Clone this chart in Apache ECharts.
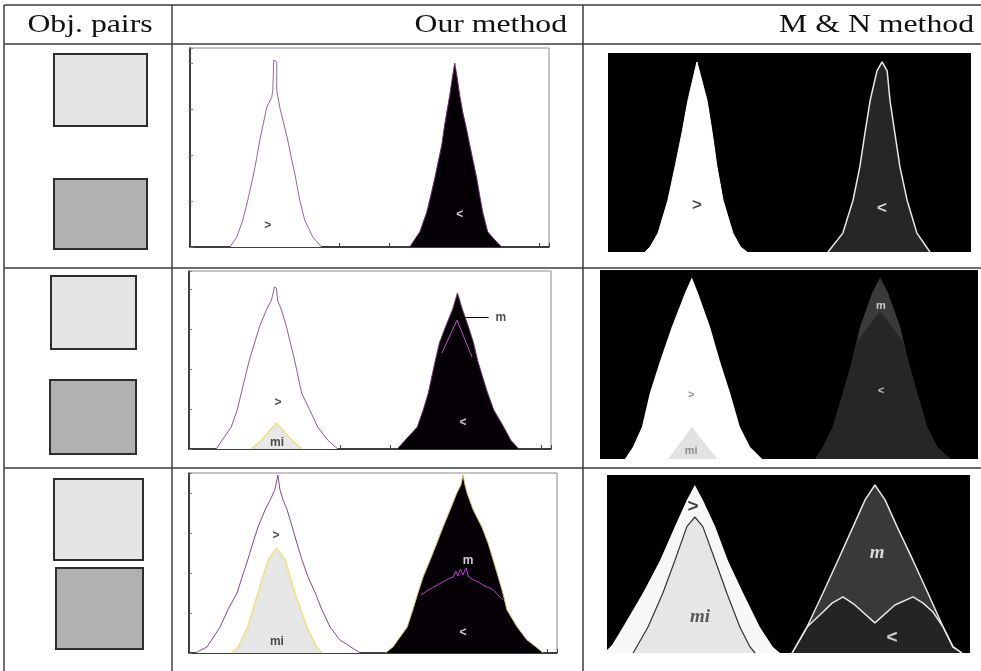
<!DOCTYPE html>
<html><head><meta charset="utf-8">
<script src="https://cdn.jsdelivr.net/npm/echarts@6/dist/echarts.min.js"></script>
<style>html,body{margin:0;padding:0;background:#fff;}#c{width:981px;height:671px;}</style>
</head><body><div id="c"></div>
<script>
// ---------- header labels ----------
const headers = ['Obj. pairs', 'Our method', 'M & N method'];

// ---------- "Our method" histograms: [bin, count] ----------
const row1OurLow = [[8,0],[9.4,0.22],[10.6,0.59],[11.6,1.02],[12.8,1.61],[13.4,1.95],[14,2.33],[15.4,3.04],[16.4,3.26],[16.6,3.41],[16.8,4.07],[17.2,4.11],[17.4,4.02],[17.4,3.41],[18,3.04],[19.6,2.33],[20.3,1.95],[21,1.61],[22,1.02],[23,0.59],[24.6,0.22],[26.4,0]];
const row1OurHigh = [[44.1,0],[44.5,0.07],[46.1,0.33],[47.5,0.76],[48.3,1.12],[49.1,1.5],[49.8,1.86],[50.5,2.22],[51,2.6],[51.5,2.93],[52.1,3.3],[52.7,3.74],[53.1,4],[53.5,3.74],[54.1,3.3],[54.7,2.93],[55.4,2.6],[56.1,2.22],[56.8,1.86],[57.5,1.5],[58.1,1.12],[58.7,0.76],[59.7,0.33],[61.5,0.11],[62.5,0]];

const row2OurLow = [[5.4,0],[6.6,0.22],[8.4,0.55],[9.6,0.98],[10.4,1.4],[12,2.22],[14,3.05],[15.4,3.48],[16.4,3.72],[17,4.05],[17.4,4.02],[17.6,3.72],[18.4,3.48],[19.4,3.05],[21,2.22],[22.4,1.4],[24,0.98],[25.6,0.55],[27.6,0.22],[29.6,0]];
const row2OurMi = [[12.4,0],[14.4,0.22],[17.4,0.65],[20,0.28],[22.4,0]];
const row2OurHigh = [[41.4,0],[43,0.22],[45.4,0.55],[46.6,0.98],[47.6,1.4],[49,2.22],[49.8,2.65],[51,3.05],[52.4,3.48],[53.4,3.9],[54.4,3.48],[55.6,3.05],[56.6,2.65],[57.4,2.22],[58.4,1.8],[59.4,1.4],[60.6,0.98],[62.6,0.55],[64,0.22],[65.6,0]];
const row2OurM = [[50.3,2.4],[53.3,3.22],[56.3,2.3]];

const row3OurLow = [[1.2,0],[3.5,0.15],[6.1,0.65],[7.6,1.08],[9.4,1.5],[10.4,1.9],[11.5,2.33],[12.5,2.75],[13.5,3.15],[14.9,3.58],[15.9,3.83],[16.8,4.08],[17.4,4.45],[17.8,4.08],[18.4,3.83],[19.2,3.58],[20.2,3.15],[21.1,2.75],[22.1,2.33],[23.3,1.9],[24.7,1.5],[26,1.08],[27.6,0.65],[29.5,0.33],[31.9,0.13],[33.5,0]];
const row3OurMi = [[8.4,0],[9.6,0.15],[11.5,0.65],[13.5,1.5],[15.5,2.33],[17.2,2.63],[18.8,2.33],[20.7,1.5],[23.1,0.65],[25,0.15],[26,0]];
const row3OurHigh = [[38.4,0],[39.9,0.15],[42.7,0.65],[43.8,1.08],[44.8,1.5],[45.8,1.9],[47.2,2.33],[48.5,2.75],[49.7,3.15],[51.1,3.58],[52.4,4],[53.2,4.2],[53.6,4.45],[54,4.2],[54.4,4],[55.6,3.58],[57.3,3.15],[58.5,2.75],[59.5,2.33],[60.5,1.9],[61.4,1.5],[62.2,1.08],[64.2,0.65],[66.1,0.33],[68.1,0.13],[69.3,0]];
const row3OurM = [[45.4,1.45],[46.5,1.55],[47.6,1.63],[48.6,1.7],[49.7,1.78],[50.7,1.85],[51.7,1.9],[52.2,2.05],[52.6,1.92],[53.1,2.1],[53.6,1.95],[54.2,2.13],[54.7,1.9],[55.6,1.83],[56.5,1.78],[57.5,1.7],[58.5,1.64],[59.5,1.58],[60.5,1.45],[61.4,1.33]];

// ---------- "M & N method" region profiles (percent of panel) ----------
const row1MnLow = [[10.2,0],[11.6,2.5],[13.8,9.5],[16.5,26],[18.5,43],[20.4,60],[22,76],[24.5,95.5],[27.3,76],[28.7,60],[30,43],[31.7,26],[34.4,9.5],[36.5,2.5],[38.3,0]];
const row1MnHigh = [[60.6,0],[64.7,9.5],[67.5,26],[69.4,43],[70.8,60],[72.2,76],[74.1,91],[75.5,95.5],[76.9,91],[77.7,76],[79,60],[80.4,43],[82.4,26],[85.1,9.5],[88.7,0]];

const row2MnLow = [[6.6,0],[8.7,6.3],[11.1,17],[13.2,35],[15.9,52],[19,70],[22.5,88],[24.3,96],[25.9,88],[29.1,70],[31.7,52],[34.4,35],[37,17],[39.7,6.3],[42.9,0]];
const row2MnMi = [[18,0],[24.3,17],[31,0]];
const row2MnM = [[56.9,0],[59,6.3],[61.6,17],[64.3,35],[66.7,52],[68.8,70],[72,88],[74.1,96],[76.2,88],[79.4,70],[81.5,52],[83.9,35],[86.5,17],[89.2,6.3],[92.6,0]];
const row2MnHigh = [[56.9,0],[59,6.3],[61.6,17],[64.3,35],[66.7,52],[68.3,63],[74.1,78],[79.9,63],[81.5,52],[83.9,35],[86.5,17],[89.2,6.3],[92.6,0]];

const row3MnLow = [[0,1.7],[1.4,4.5],[4.4,14.6],[9.9,33.7],[14.6,52],[18.7,71],[22,86],[24.2,94.4],[26.4,86],[29.8,71],[33.3,52],[37.5,33.7],[42.1,14.6],[45.7,3.4],[47.7,0]];
const row3MnMi = [[7.2,0],[11.3,14.6],[15.4,33.7],[18.7,52],[22,71],[24.2,76.4],[26.4,71],[29.8,52],[33,33.7],[36.6,14.6],[39.4,3.4],[40.8,0]];
const row3MnM = [[51,0],[55.1,14.6],[59.5,33.7],[63.6,52],[67.8,71],[71.1,86],[73.8,94.4],[76.6,86],[79.9,71],[84.3,52],[88.4,33.7],[92.6,14.6],[95.3,3.4],[97.8,0]];
const row3MnHigh = [[51,0],[55.1,14.6],[59.5,23],[62,28],[65,31.5],[68.3,27],[73.8,16.9],[79.3,27],[84.3,31.5],[87.1,28],[89.8,23],[92.6,14.6],[95.3,3.4],[97.8,0]];

// ---------- annotation texts: [x, y, text] ----------
const row1OurDarkText = [[15.6,0.46,'>']];
const row1OurLightText = [[54.1,0.7,'<']];
const row2OurDarkText = [[17.7,1.15,'>'],[17.5,0.15,'mi'],[62,3.28,'m']];
const row2OurLightText = [[54.5,0.65,'<']];
const row2Arrow = [[53.8,3.3],[59.6,3.3]];
const row3OurDarkText = [[17,2.93,'>'],[17.2,0.28,'mi']];
const row3OurLightText = [[54.6,2.3,'m'],[53.6,0.52,'<']];

const row1MnDarkText = [[24.5,23.6,'>']];
const row1MnLightText = [[75.5,22,'<']];
const row2MnDarkText = [[24.1,34,'>'],[24.1,4.2,'mi']];
const row2MnLightText = [[74.3,81,'m'],[74.3,36,'<']];
const row3MnDarkText = [[23.7,82,'>']];
const row3MnItalicDark = [[25.6,20,'mi']];
const row3MnItalicLight = [[74.4,56,'m']];
const row3MnLightText = [[78.5,8.4,'<']];

const ourYMax = [4.33, 4.45, 4.5];

// ---------- build option ----------
const grids = [
  {left:190, top:48, width:359, height:199},
  {left:189, top:271, width:362, height:178},
  {left:189, top:473, width:368, height:180},
  {left:608, top:53, width:363, height:199},
  {left:600, top:270, width:378, height:189},
  {left:607, top:475, width:363, height:178}
].map((g,i) => Object.assign(g, i < 3
  ? {show:true, backgroundColor:'#fff', borderColor:'#8a8a8a', borderWidth:1}
  : {show:true, backgroundColor:'#000', borderWidth:0}));

const xAxes = [], yAxes = [];
for (let i = 0; i < 6; i++) {
  if (i < 3) {
    xAxes.push({gridIndex:i, type:'value', min:0, max:72, interval:10,
      axisLine:{lineStyle:{color:'#111', width:1.5}},
      axisTick:{inside:true, length:4, lineStyle:{color:'#444'}},
      axisLabel:{show:false}, splitLine:{show:false}});
    yAxes.push({gridIndex:i, type:'value', min:0, max:ourYMax[i], interval:1,
      axisLine:{show:true, lineStyle:{color:'#111', width:1.5}},
      axisTick:{show:true, inside:true, length:3, lineStyle:{color:'#777'}},
      axisLabel:{show:false}, splitLine:{show:false}});
  } else {
    xAxes.push({gridIndex:i, type:'value', min:0, max:100, show:false});
    yAxes.push({gridIndex:i, type:'value', min:0, max:100, show:false});
  }
}

const series = [];
function area(g, data, fill, stroke, w) {
  series.push({type:'line', xAxisIndex:g, yAxisIndex:g, data:data, symbol:'none', smooth:false,
    lineStyle:{color:stroke || fill, width:(w === undefined ? 1 : w)},
    areaStyle:{color:fill, opacity:1}, z:2, silent:true});
}
function line(g, data, stroke, w) {
  series.push({type:'line', xAxisIndex:g, yAxisIndex:g, data:data, symbol:'none',
    lineStyle:{color:stroke, width:w}, z:3, silent:true});
}
function texts(g, items, color, size, family, style, weight, rotate) {
  series.push({type:'scatter', xAxisIndex:g, yAxisIndex:g, data:items, symbolSize:1,
    itemStyle:{color:'rgba(0,0,0,0)'}, z:5, silent:true,
    label:{show:true, position:'inside', formatter:p => p.data[2], color:color,
      fontSize:size, fontFamily:family, fontStyle:style || 'normal', fontWeight:weight || 'normal', rotate:rotate || 0}});
}
const SANS = 'Liberation Sans, Arial, sans-serif';
const SERIF = 'Liberation Serif, serif';

// Row 1 - our method
area(0, row1OurLow, '#ffffff', '#9266a4', 1);
area(0, row1OurHigh, '#050005', '#6a2a70', 1);
texts(0, row1OurDarkText, '#222', 12, SANS, 'normal', 'bold');
texts(0, row1OurLightText, '#fff', 12, SANS, 'normal', 'bold');
// Row 2 - our method
area(1, row2OurLow, '#ffffff', '#8e5aa0', 1);
area(1, row2OurMi, '#e8e8e8', '#ece27a', 1.5);
area(1, row2OurHigh, '#050005', '#6a3a6a', 1);
line(1, row2OurM, '#c050c8', 1);
series.push({type:'line', xAxisIndex:1, yAxisIndex:1, data:[], symbol:'none', z:4, silent:true,
  markLine:{silent:true, symbol:['none','arrow'], symbolSize:[0,6], label:{show:false},
    lineStyle:{color:'#111', width:1, type:'solid'},
    data:[[{coord:row2Arrow[0]},{coord:row2Arrow[1]}]]}});
texts(1, row2OurDarkText, '#222', 12, SANS, 'normal', 'bold');
texts(1, row2OurLightText, '#fff', 12, SANS, 'normal', 'bold');
// Row 3 - our method
area(2, row3OurLow, '#ffffff', '#7e4c8e', 1);
area(2, row3OurMi, '#e6e6e6', '#efe27a', 1.5);
area(2, row3OurHigh, '#050005', '#c8c070', 1);
line(2, row3OurM, '#c838d8', 1);
texts(2, row3OurDarkText, '#222', 12, SANS, 'normal', 'bold');
texts(2, row3OurLightText, '#fff', 12, SANS, 'normal', 'bold');

// Row 1 - M & N
area(3, row1MnLow, '#ffffff', '#ffffff', 1);
area(3, row1MnHigh, '#262626', '#e8e8e8', 1.5);
texts(3, row1MnDarkText, '#222', 17, SANS, 'normal', 'bold');
texts(3, row1MnLightText, '#fff', 17, SANS, 'normal', 'bold');
// Row 2 - M & N
area(4, row2MnLow, '#ffffff', '#ffffff', 0);
area(4, row2MnMi, '#e2e2e2', '#e2e2e2', 0);
area(4, row2MnM, '#3a3a3a', '#3a3a3a', 0);
area(4, row2MnHigh, '#262626', '#262626', 0);
texts(4, row2MnDarkText, '#777', 11, SANS, 'normal', 'bold');
texts(4, row2MnLightText, '#e6e6e6', 11, SANS, 'normal', 'bold');
// Row 3 - M & N
area(5, row3MnLow, '#f7f7f7', '#f7f7f7', 0);
area(5, row3MnMi, '#e6e6e6', '#333', 1.2);
area(5, row3MnM, '#393939', '#e6e6e6', 1.5);
area(5, row3MnHigh, '#242424', '#e6e6e6', 1.5);
texts(5, row3MnDarkText, '#111', 19, SANS, 'normal', 'bold');
texts(5, row3MnItalicDark, '#333', 19, SERIF, 'italic', 'bold');
texts(5, row3MnItalicLight, '#fff', 19, SERIF, 'italic', 'bold');
texts(5, row3MnLightText, '#fff', 19, SANS, 'normal', 'bold');

// ---------- table frame, object squares, headers ----------
const LC = '#3c3c3c';
const graphic = [];
[5, 44, 268, 468].forEach(y => graphic.push({type:'line', shape:{x1:4, y1:y, x2:981, y2:y}, style:{stroke:LC, lineWidth:1.5}, z:10}));
[4, 172, 583].forEach(x => graphic.push({type:'line', shape:{x1:x, y1:5, x2:x, y2:671}, style:{stroke:LC, lineWidth:1.5}, z:10}));
const sq = (x, y, w, h, fill) => graphic.push({type:'rect', shape:{x, y, width:w, height:h}, style:{fill, stroke:'#2e2e2e', lineWidth:2}, z:10});
sq(54, 54, 93, 72, '#e4e4e4');  sq(54, 179, 93, 70, '#b1b1b1');
sq(51, 276, 85, 73, '#e4e4e4');  sq(50, 380, 86, 74, '#b1b1b1');
sq(54, 479, 89, 81, '#e4e4e4');  sq(56, 568, 87, 81, '#b1b1b1');
const head = (t, x, align) => graphic.push({type:'text', x:x, y:25, scaleX:1.27, z:10,
  style:{text:t, fill:'#111', font:'25px "Liberation Serif", serif', textAlign:align, textVerticalAlign:'middle', verticalAlign:'middle'}});
head(headers[0], 90, 'center');
head(headers[1], 567, 'right');
head(headers[2], 974, 'right');

const chart = echarts.init(document.getElementById('c'), null, {renderer:'canvas'});
chart.setOption({animation:false, backgroundColor:'#fff', grid:grids, xAxis:xAxes, yAxis:yAxes, series:series, graphic:graphic});
</script>
</body></html>
